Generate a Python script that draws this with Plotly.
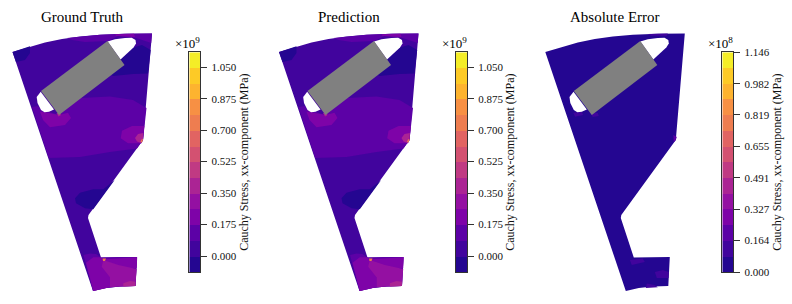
import plotly.graph_objects as go

# ---- Data -----------------------------------------------------------------
panel_titles = ["Ground Truth", "Prediction", "Absolute Error"]
exponents = ["×10<sup>9</sup>", "×10<sup>9</sup>", "×10<sup>8</sup>"]
colorbar_title = "Cauchy Stress, xx-component (MPa)"
band_colors = ["#240691", "#41049d", "#5c01a6", "#7e03a8", "#9410a2", "#ab2494", "#c03a83",
               "#d35171", "#e16462", "#ee7d50", "#f79044", "#fdb32f", "#fdca26", "#f4ed27"]
stress_ticks = [0.0, 0.175, 0.35, 0.525, 0.7, 0.875, 1.05]
stress_range = [-0.089, 1.133]
error_ticks = [0.0, 0.164, 0.327, 0.491, 0.655, 0.819, 0.982, 1.146]
error_range = [0.0, 1.146]

part_outline = [(12.5, 52), (30, 46.5), (45, 42.5), (62, 39), (80, 36.5), (100, 34.7), (125, 33.7), (152, 33.5),
                (143, 140), (88.5, 215), (88, 218), (101, 257.5), (118, 257), (137, 257), (135.5, 286),
                (120, 286.5), (106, 288), (93, 291)]
slot_upper = [(107.5, 41.5), (115, 39.3), (125, 38), (131.7, 37.7), (135.5, 40), (136, 43.5), (133.5, 47.5),
              (120.5, 59.5)]
slot_lower = [(40.7, 91.7), (36.7, 97), (37.5, 103), (41, 110), (44.5, 112.3), (49, 111.8), (54, 109.5)]
magnet = [(107.5, 41), (124.5, 65), (59, 115), (41, 91)]

corner_patch = [(12.5, 52), (30, 46.2), (30, 53), (25, 60), (16, 62)]
under_slot = [(120.5, 59.5), (133.5, 47.5), (142, 45), (150.7, 50), (148, 73.5), (133, 74), (113, 76), (110, 74), (124.5, 65)]
top_strip = [(67, 38), (80, 36.5), (100, 34.7), (125, 33.7), (152, 33.5), (151.2, 43), (143, 40.5), (136, 38), (118, 36),
             (108, 41), (85, 42), (72, 40)]
top_hot = [(115, 34.2), (125, 33.7), (134, 33.7), (135, 37), (125, 36.5), (116, 36)]
middle_band = [(32, 107), (38, 106), (41, 110), (49, 111.8), (59, 115), (68, 107), (80, 98), (110, 96.5), (133, 100),
               (146.5, 108), (143, 140), (137, 148.5), (110, 152), (80, 157), (48.7, 158)]
left_patch = [(40, 111.7), (45, 112.3), (59, 115), (68, 112.7), (71, 118), (65, 125), (50, 127.3), (43, 120)]
right_patch = [(144.3, 126), (132, 126), (122, 130.7), (120.7, 138.3), (128, 143.3), (141.5, 143.3), (143, 140)]
right_inner = [(143.3, 133), (138, 134), (135, 138), (137, 141.5), (141, 143), (143, 140)]
notch_hot = [(143, 139), (141.5, 139.5), (140.5, 142), (142, 142.5)]
left_under_patch = [(114.7, 180), (95, 206), (93.3, 209.3), (85, 208.3), (76, 203.3), (75, 198.3), (80, 192.7), (93.3, 189.3), (103.3, 189.3)]
foot_base = [(83.5, 255), (90, 253.5), (96, 254), (101, 257.5), (118, 257), (137, 257), (135.5, 286), (120, 286.5), (106, 288), (93, 291)]
foot_left = [(86, 262.7), (93.3, 257.3), (100.7, 257.3), (103.3, 259.3), (137.2, 257.3), (136.7, 268.3), (113.3, 268.3),
             (110, 277.3), (110, 287.3), (93.3, 291)]
foot_centre = [(103.3, 260), (118.3, 265), (136.7, 269), (135.4, 286), (120, 286.5), (110, 287.3), (110, 277.3), (101.7, 266.7)]
foot_corner = [(123.3, 283.3), (130, 281), (135.4, 281.7), (135.4, 286), (123.3, 286.6)]
foot_hot = [(102.5, 258.5), (106, 258.6), (105, 261), (103, 261)]
edge_hot = [(56.5, 113), (61, 113.3), (60.5, 115.5), (58.5, 116.5)]

stress_regions = [
    (corner_patch, -0.045), (under_slot, -0.045), (left_under_patch, -0.045),
    (top_strip, 0.129), (top_hot, 0.216), (middle_band, 0.129), (left_patch, 0.216),
    (right_patch, 0.216), (right_inner, 0.39), (notch_hot, 0.74), (edge_hot, 0.39),
    (foot_base, 0.129), (foot_left, 0.216), (foot_centre, 0.305), (foot_corner, 0.39), (foot_hot, 0.74),
]
stress_base = 0.042

error_regions = [
    ([(40.5, 112.7), (48.9, 111.7), (50.5, 115), (42.2, 116.7)], 0.12),
    ([(57, 112), (65, 113), (66, 116), (60, 117)], 0.12),
    ([(97, 260), (110, 258.5), (112, 262), (99, 265)], 0.12),
    ([(122, 272), (130, 270), (136, 272), (135.7, 278), (124, 278)], 0.12),
    ([(114, 283.5), (122, 285), (125, 287.2), (113, 288)], 0.12),
    ([(140.5, 135), (144, 137), (143, 140), (141, 142.5)], 0.20),
    ([(115, 34), (135, 33.6), (134, 36), (118, 35.8)], 0.12),
]
error_base = 0.04

# ---- Layout constants ------------------------------------------------------
W, H = 792, 304
panel_offsets = [0, 266.5, 532.8]
panel_width = 170
bar_left = [189.3, 456, 722.3]
bar_width = 11
bar_top, bar_bottom = 52.3, 272
FONT = "Liberation Serif"


def band_color(value, lo, hi):
    k = int((value - lo) / (hi - lo) * len(band_colors))
    return band_colors[min(max(k, 0), len(band_colors) - 1)]


def add_poly(fig, pts, color, xa, ya):
    xs = [p[0] for p in pts]
    ys = [p[1] for p in pts]
    fig.add_trace(go.Scatter(x=xs + xs[:1], y=ys + ys[:1], mode="lines", fill="toself", fillcolor=color,
                             line=dict(width=0, color=color), hoverinfo="skip", showlegend=False,
                             xaxis=xa, yaxis=ya))


fig = go.Figure()
layout = {}
panel_fields = [(stress_base, stress_regions, stress_range), (stress_base, stress_regions, stress_range),
                (error_base, error_regions, error_range)]
ticks = [stress_ticks, stress_ticks, error_ticks]
annotations = []

for i in range(3):
    a = 2 * i + 1
    b = 2 * i + 2
    xa, ya = f"x{a}", f"y{a}"
    base, regions, rng = panel_fields[i]
    add_poly(fig, part_outline, band_color(base, *rng), xa, ya)
    for pts, val in regions:
        add_poly(fig, pts, band_color(val, *rng), xa, ya)
    add_poly(fig, slot_upper, "#ffffff", xa, ya)
    add_poly(fig, slot_lower, "#ffffff", xa, ya)
    add_poly(fig, magnet, "#808080", xa, ya)

    off = panel_offsets[i]
    layout[f"xaxis{a}"] = dict(domain=[off / W, (off + panel_width) / W], range=[0, panel_width], visible=False,
                               fixedrange=True, automargin=False)
    layout[f"yaxis{a}"] = dict(domain=[0, 1], range=[H, 0], visible=False, fixedrange=True, anchor=f"x{a}",
                               automargin=False)

    n = len(band_colors)
    step = (rng[1] - rng[0]) / n
    centers = [rng[0] + step * (k + 0.5) for k in range(n)]
    scale = []
    for k, c in enumerate(band_colors):
        scale += [[k / n, c], [(k + 1) / n, c]]
    fig.add_trace(go.Heatmap(x=[0], y=centers, z=[[c] for c in centers], zmin=rng[0], zmax=rng[1], colorscale=scale,
                             showscale=False, hoverinfo="skip", xaxis=f"x{b}", yaxis=f"y{b}"))
    left = bar_left[i]
    layout[f"xaxis{b}"] = dict(domain=[left / W, (left + bar_width) / W], range=[-0.5, 0.5], showticklabels=False, ticks="",
                               showgrid=False, zeroline=False, showline=True, mirror=True, linecolor="#333333",
                               linewidth=1, fixedrange=True, anchor=f"y{b}", automargin=False)
    layout[f"yaxis{b}"] = dict(domain=[1 - bar_bottom / H, 1 - bar_top / H], range=rng, side="right", anchor=f"x{b}",
                               tickvals=ticks[i], ticktext=[f"{t:.3f}" for t in ticks[i]], ticks="outside", ticklen=6,
                               tickcolor="#333333", tickwidth=1, ticklabelstandoff=2, showgrid=False, zeroline=False,
                               showline=True, mirror=True, linecolor="#333333", linewidth=1, fixedrange=True,
                               automargin=False,
                               tickfont=dict(family=FONT, size=11, color="#111111"),
                               title=dict(text=colorbar_title, standoff=0,
                                          font=dict(family=FONT, size=12, color="#111111")))
    annotations.append(dict(text=panel_titles[i], xref="paper", yref="paper", x=(off + 82) / W, y=1 - 17 / H,
                            xanchor="center", yanchor="middle", showarrow=False,
                            font=dict(family=FONT, size=15, color="#000000")))
    annotations.append(dict(text=exponents[i], xref="paper", yref="paper", x=(left - 2) / W, y=1 - 43 / H,
                            xanchor="center", yanchor="middle", showarrow=False,
                            font=dict(family=FONT, size=13, color="#000000")))

fig.update_layout(width=W, height=H, margin=dict(l=0, r=0, t=0, b=0), paper_bgcolor="#ffffff", plot_bgcolor="#ffffff",
                  showlegend=False, annotations=annotations, **layout)
fig.write_html("out.html", config=dict(displayModeBar=False),
               post_script="document.body.style.margin='0';document.body.style.overflow='hidden';")
